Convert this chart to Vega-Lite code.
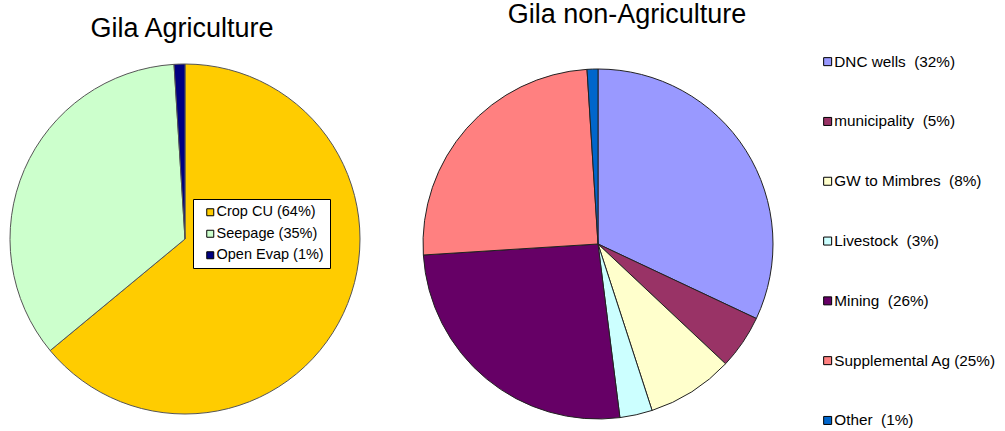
{
  "$schema": "https://vega.github.io/schema/vega-lite/v6.json",
  "padding": {"top": 1, "left": 0, "right": 0, "bottom": 0},
  "background": "white",
  "config": {
    "view": {"stroke": null},
    "font": "Liberation Sans"
  },
  "datasets": {
    "agri": [
      {"use": "Crop CU (64%)", "share": 64, "rank": 1},
      {"use": "Seepage (35%)", "share": 35, "rank": 2},
      {"use": "Open Evap (1%)\u00a0\u00a0\u00a0", "share": 1, "rank": 3}
    ],
    "nonagri": [
      {"use": "DNC wells \u00a0(32%)", "share": 32, "rank": 1},
      {"use": "municipality \u00a0(5%)", "share": 5, "rank": 2},
      {"use": "GW to Mimbres \u00a0(8%)", "share": 8, "rank": 3},
      {"use": "Livestock \u00a0(3%)", "share": 3, "rank": 4},
      {"use": "Mining \u00a0(26%)", "share": 26, "rank": 5},
      {"use": "Supplemental Ag (25%)", "share": 25, "rank": 6},
      {"use": "Other \u00a0(1%)", "share": 1, "rank": 7}
    ]
  },
  "bounds": "flush",
  "spacing": 53,
  "resolve": {
    "scale": {"color": "independent", "theta": "independent"},
    "legend": {"color": "independent"}
  },
  "hconcat": [
    {
      "width": 370,
      "height": 350,
      "data": {"name": "agri"},
      "title": {
        "text": "Gila Agriculture",
        "fontSize": 27,
        "fontWeight": "normal",
        "color": "#000",
        "frame": "group",
        "anchor": "middle",
        "dx": -3,
        "baseline": "alphabetic",
        "offset": -2
      },
      "mark": {"type": "arc", "outerRadius": 175, "stroke": "#555", "strokeWidth": 1},
      "encoding": {
        "theta": {"field": "share", "type": "quantitative", "stack": true},
        "order": {"field": "rank", "type": "quantitative"},
        "color": {
          "field": "use",
          "type": "nominal",
          "scale": {
            "domain": ["Crop CU (64%)", "Seepage (35%)", "Open Evap (1%)\u00a0\u00a0\u00a0"],
            "range": ["#FFCC00", "#CCFFCC", "#000080"]
          },
          "legend": {
            "title": null,
            "orient": "none",
            "legendX": 193,
            "legendY": 135,
            "padding": 6,
            "symbolOffset": 4,
            "strokeColor": "#000",
            "fillColor": "#fff",
            "symbolType": "square",
            "symbolSize": 49,
            "symbolStrokeColor": "#000",
            "symbolStrokeWidth": 1,
            "labelFont": "Liberation Sans",
            "labelFontSize": 14.5,
            "labelColor": "#000",
            "labelOffset": -1,
            "labelLimit": 300,
            "rowPadding": 6.5
          }
        }
      }
    },
    {
      "width": 350,
      "height": 360,
      "data": {"name": "nonagri"},
      "title": {
        "text": "Gila non-Agriculture",
        "fontSize": 27,
        "fontWeight": "normal",
        "color": "#000",
        "frame": "group",
        "anchor": "middle",
        "dx": 29,
        "baseline": "alphabetic",
        "offset": 4
      },
      "mark": {"type": "arc", "outerRadius": 175, "stroke": "#222", "strokeWidth": 1},
      "encoding": {
        "theta": {"field": "share", "type": "quantitative", "stack": true},
        "order": {"field": "rank", "type": "quantitative"},
        "color": {
          "field": "use",
          "type": "nominal",
          "scale": {
            "domain": [
              "DNC wells \u00a0(32%)",
              "municipality \u00a0(5%)",
              "GW to Mimbres \u00a0(8%)",
              "Livestock \u00a0(3%)",
              "Mining \u00a0(26%)",
              "Supplemental Ag (25%)",
              "Other \u00a0(1%)"
            ],
            "range": ["#9999FF", "#993366", "#FFFFCC", "#CCFFFF", "#660066", "#FF8080", "#0066CC"]
          },
          "legend": {
            "title": null,
            "orient": "none",
            "legendX": 397,
            "legendY": -10,
            "padding": 0,
            "symbolType": "square",
            "symbolSize": 64,
            "symbolStrokeColor": "#000",
            "symbolStrokeWidth": 1,
            "labelFont": "Liberation Sans",
            "labelFontSize": 15.3,
            "labelColor": "#000",
            "labelOffset": -1,
            "labelLimit": 300,
            "rowPadding": 43.8
          }
        }
      }
    }
  ]
}
